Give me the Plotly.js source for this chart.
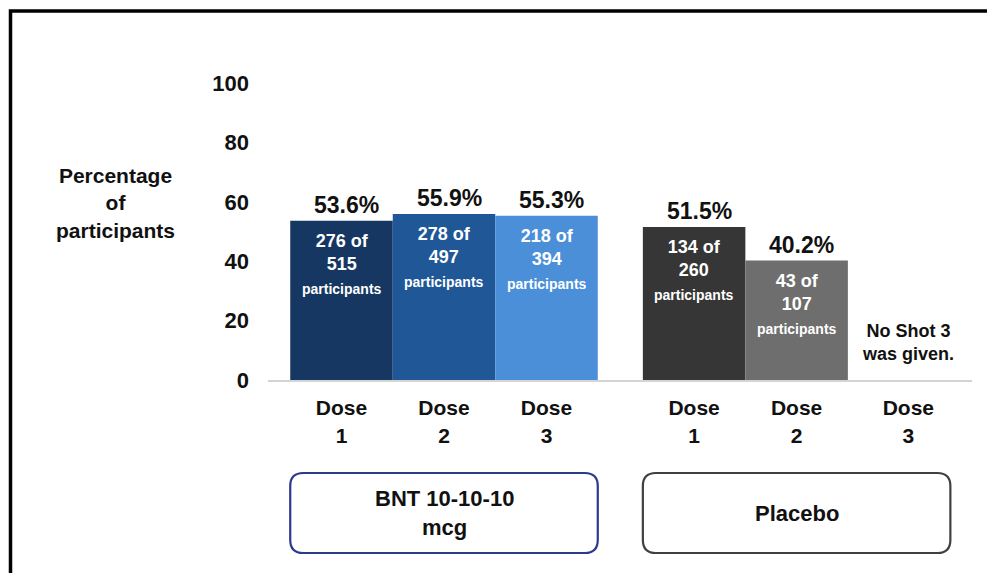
<!DOCTYPE html>
<html>
<head>
<meta charset="utf-8">
<script src="https://cdn.plot.ly/plotly-3.0.1.min.js"></script>
<style>
  html, body { margin: 0; padding: 0; background: #ffffff; }
  #chart { width: 987px; height: 573px; }
</style>
</head>
<body>
<div id="chart"></div>
<script>
// ---------------- Data ----------------
const groupNames = ["BNT 10-10-10<br>mcg", "Placebo"];
const doseLabels = ["Dose<br>1", "Dose<br>2", "Dose<br>3"];

const bntPercent = [53.6, 55.9, 55.3];
const bntCount = [276, 278, 218];
const bntTotal = [515, 497, 394];

const placeboPercent = [51.5, 40.2, null];
const placeboCount = [134, 43, null];
const placeboTotal = [260, 107, null];

const noShotText = "No Shot 3<br>was given.";
const yTickValues = [0, 20, 40, 60, 80, 100];
const yTitleText = "Percentage<br>of<br>participants";

// ---------------- Styling / layout constants ----------------
const bntColors = ["#163761", "#205797", "#4a8fd8"];
const placeboColors = ["#363636", "#6e6e6e", "#ffffff"];
const bntX = [0, 1, 2];
const placeboX = [3.44, 4.44, 5.53];
const FONT = "Liberation Sans, Arial, Helvetica, sans-serif";

const W = 987, H = 573;
const M = { l: 268, r: 15, t: 83, b: 193 };
const plotW = W - M.l - M.r, plotH = H - M.t - M.b;
const xRange = [-0.717, 6.151];
const yRange = [0, 100];

const pxX = px => (px - M.l) / plotW;
const pxY = py => (H - M.b - py) / plotH;
const dataXToPaper = x => (x - xRange[0]) / (xRange[1] - xRange[0]);

function roundedRect(x0, x1, y0, y1, rpx) {
  const rx = rpx / plotW, ry = rpx / plotH;
  // y0 = top (higher paper value), y1 = bottom
  return `M ${x0 + rx} ${y0} L ${x1 - rx} ${y0} Q ${x1} ${y0} ${x1} ${y0 - ry} ` +
         `L ${x1} ${y1 + ry} Q ${x1} ${y1} ${x1 - rx} ${y1} ` +
         `L ${x0 + rx} ${y1} Q ${x0} ${y1} ${x0} ${y1 + ry} ` +
         `L ${x0} ${y0 - ry} Q ${x0} ${y0} ${x0 + rx} ${y0} Z`;
}

// ---------------- Traces ----------------
const traces = [
  {
    type: "bar", x: bntX, y: bntPercent, width: 1,
    marker: { color: bntColors, line: { width: 0 } },
    hoverinfo: "skip", showlegend: false
  },
  {
    type: "bar", x: placeboX, y: placeboPercent, width: 1,
    marker: { color: placeboColors, line: { width: 0 } },
    hoverinfo: "skip", showlegend: false
  }
];

// ---------------- Annotations ----------------
const annotations = [];
function addBarLabels(xs, pcts, counts, totals) {
  xs.forEach((x, i) => {
    if (pcts[i] == null) return;
    annotations.push({
      x: x, y: pcts[i], xref: "x", yref: "y",
      text: pcts[i].toFixed(1) + "%",
      showarrow: false, xanchor: "center", yanchor: "bottom",
      xshift: 5, yshift: 1,
      font: { family: FONT, size: 23, weight: 700, color: "#111111" }
    });
    annotations.push({
      x: x, y: pcts[i], xref: "x", yref: "y",
      text: counts[i] + " of<br>" + totals[i] + "<br><span style='font-size:14px'>participants</span>",
      showarrow: false, xanchor: "center", yanchor: "top",
      yshift: -8,
      font: { family: FONT, size: 18, weight: 700, color: "#ffffff" }
    });
  });
}
addBarLabels(bntX, bntPercent, bntCount, bntTotal);
addBarLabels(placeboX, placeboPercent, placeboCount, placeboTotal);

// "No Shot 3 was given."
placeboPercent.forEach((p, i) => {
  if (p == null) {
    annotations.push({
      x: placeboX[i], y: 0, xref: "x", yref: "y",
      text: noShotText, showarrow: false,
      xanchor: "center", yanchor: "bottom", yshift: 14,
      font: { family: FONT, size: 18, weight: 700, color: "#111111" }
    });
  }
});

// Y-axis title
annotations.push({
  x: pxX(115), y: pxY(203), xref: "paper", yref: "paper",
  text: yTitleText, showarrow: false, xanchor: "center", yanchor: "middle",
  font: { family: FONT, size: 21, weight: 700, color: "#111111" }
});

// Group boxes and labels
const groupXs = [bntX, placeboX];
const boxColors = ["#2b3a8f", "#404040"];
const shapes = [];
const boxTop = pxY(473), boxBottom = pxY(553);
groupXs.forEach((xs, g) => {
  const x0 = dataXToPaper(xs[0] - 0.5);
  const x1 = dataXToPaper(xs[0] + 2.5);
  shapes.push({
    type: "path", xref: "paper", yref: "paper",
    path: roundedRect(x0, x1, boxTop, boxBottom, 13),
    line: { color: boxColors[g], width: 2.2 }, fillcolor: "rgba(0,0,0,0)"
  });
  annotations.push({
    x: (x0 + x1) / 2, y: (boxTop + boxBottom) / 2, xref: "paper", yref: "paper",
    text: groupNames[g], showarrow: false, xanchor: "center", yanchor: "middle",
    font: { family: FONT, size: 22, weight: 700, color: "#111111" }
  });
});

// Outer frame (top + left visible)
shapes.push({
  type: "path", xref: "paper", yref: "paper",
  path: `M ${pxX(10.5)} ${pxY(600)} L ${pxX(10.5)} ${pxY(11)} L ${pxX(1000)} ${pxY(11)}`,
  line: { color: "#000000", width: 3.5 }
});

// ---------------- Layout ----------------
const allX = bntX.concat(placeboX);
const allXText = doseLabels.concat(doseLabels);

const layout = {
  width: W, height: H,
  margin: M,
  paper_bgcolor: "#ffffff", plot_bgcolor: "#ffffff",
  barmode: "overlay",
  showlegend: false,
  xaxis: {
    range: xRange, tickvals: allX, ticktext: allXText,
    showgrid: false, zeroline: false,
    showline: true, linecolor: "#d4d4d4", linewidth: 2,
    ticks: "", ticklabelstandoff: 8,
    tickfont: { family: FONT, size: 21, weight: 700, color: "#111111" },
    fixedrange: true
  },
  yaxis: {
    range: yRange, tickvals: yTickValues,
    showgrid: false, zeroline: false, showline: false,
    ticks: "", ticklabelstandoff: 18,
    tickfont: { family: FONT, size: 22, weight: 700, color: "#111111" },
    fixedrange: true
  },
  annotations: annotations,
  shapes: shapes
};

Plotly.newPlot("chart", traces, layout, { displayModeBar: false, staticPlot: true });
</script>
</body>
</html>
